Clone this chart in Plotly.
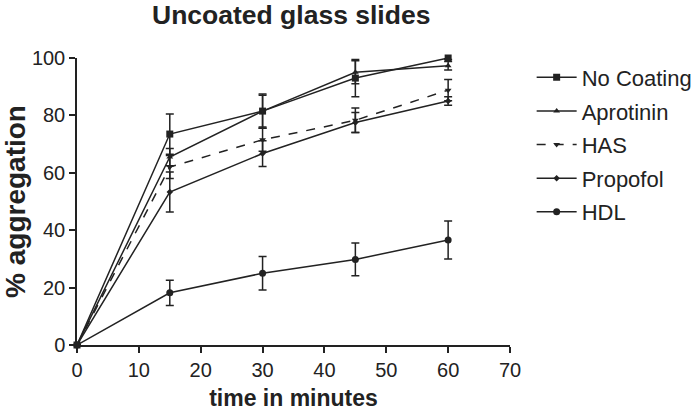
import plotly.graph_objects as go

time = [0, 15, 30, 45, 60]
no_coating = [0, 73.5, 81.5, 93.0, 100.0]
no_coating_err = [0, 7.0, 6.0, 6.5, 0.5]
aprotinin = [0, 65.5, 81.5, 95.0, 97.3]
aprotinin_err = [0, 3.0, 5.5, 4.0, 1.5]
has = [0, 62.0, 71.5, 78.3, 88.8]
has_err = [0, 4.0, 4.0, 4.3, 3.7]
propofol = [0, 53.3, 66.7, 77.5, 85.0]
propofol_err = [0, 7.0, 4.5, 3.5, 1.5]
hdl = [0, 18.2, 25.0, 29.8, 36.6]
hdl_err = [0, 4.4, 5.8, 5.7, 6.6]

series = [
    ("No Coating", no_coating, no_coating_err, "square", "solid", 7),
    ("Aprotinin", aprotinin, aprotinin_err, "triangle-up", "solid", 6),
    ("HAS", has, has_err, "triangle-down", "dash", 6),
    ("Propofol", propofol, propofol_err, "diamond", "solid", 5),
    ("HDL", hdl, hdl_err, "circle", "solid", 7),
]

fig = go.Figure()
for name, y, e, sym, dash, sz in series:
    fig.add_trace(go.Scatter(
        x=time, y=y, name=name, legendgroup=name, mode="lines+markers",
        line=dict(color="#222222", width=1.5, dash=dash),
        marker=dict(symbol=sym, size=sz, color="#222222"),
        error_y=dict(type="data", array=e, visible=True, color="#222222",
                     thickness=1.5, width=4),
        cliponaxis=False,
    ))

font = "Liberation Sans, Arial, sans-serif"
fig.update_layout(
    width=700, height=412,
    margin=dict(l=77, r=190, t=58, b=67, autoexpand=False),
    paper_bgcolor="white", plot_bgcolor="white",
    font=dict(family=font, size=20, color="#222222"),
    title=dict(text="<b>Uncoated glass slides</b>", x=0.416, xanchor="center",
               y=0.965, yanchor="middle", pad=dict(t=0, b=0),
               font=dict(size=26.5, family=font)),
    showlegend=True,
    legend=dict(x=1.05, xanchor="left", y=1.005, yanchor="top",
                font=dict(size=22, family=font), tracegroupgap=2,
                itemwidth=40, bgcolor="rgba(0,0,0,0)"),
    xaxis=dict(range=[0, 70], tickvals=[0, 10, 20, 30, 40, 50, 60, 70],
               showline=True, linecolor="#222222", linewidth=1.5,
               ticks="outside", ticklen=6, tickwidth=1.5, tickcolor="#222222",
               showgrid=False, zeroline=False, automargin=True,
               title=dict(text="<b>time in minutes</b>", font=dict(size=23), standoff=10),
               tickfont=dict(size=20)),
    yaxis=dict(range=[0, 100], tickvals=[0, 20, 40, 60, 80, 100],
               showline=True, linecolor="#222222", linewidth=1.5,
               ticks="outside", ticklen=6, tickwidth=1.5, tickcolor="#222222",
               showgrid=False, zeroline=False, automargin=True,
               title=dict(text="<b>% aggregation</b>", font=dict(size=28), standoff=4),
               tickfont=dict(size=20)),
)

fig.write_html("out.html", config={"displayModeBar": False},
               post_script="document.body.style.margin='0';")
